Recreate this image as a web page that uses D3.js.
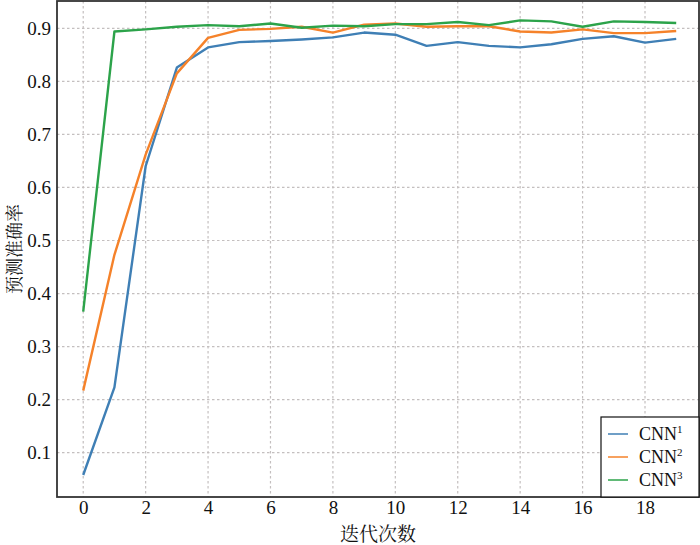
<!DOCTYPE html>
<html>
<head>
<meta charset="utf-8">
<script src="https://d3js.org/d3.v7.min.js"></script>
<style>
  body { margin: 0; background: #fff; }
  svg { display: block; }
</style>
</head>
<body>
<svg id="chart" width="700" height="545"></svg>
<script>
'use strict';

const epochs = d3.range(0, 20);
const cnn1 = [0.058, 0.223, 0.640, 0.826, 0.864, 0.874, 0.876, 0.879, 0.883, 0.892,
    0.888, 0.867, 0.874, 0.867, 0.864, 0.870, 0.880, 0.885, 0.873, 0.880];
const cnn2 = [0.217, 0.473, 0.662, 0.815, 0.882, 0.897, 0.899, 0.903, 0.892, 0.907,
    0.909, 0.903, 0.904, 0.904, 0.894, 0.892, 0.898, 0.891, 0.891, 0.895];
const cnn3 = [0.366, 0.894, 0.898, 0.903, 0.906, 0.904, 0.909, 0.901, 0.905, 0.904,
    0.908, 0.908, 0.912, 0.906, 0.915, 0.913, 0.903, 0.913, 0.912, 0.910];
const seriesNames = ['1', '2', '3'];
const xTicks = d3.range(0, 20, 2);
const yTicks = [0.1, 0.2, 0.3, 0.4, 0.5, 0.6, 0.7, 0.8, 0.9];

const colors = ['#3f7fb5', '#f5822a', '#2ca34a'];
const serif = '"Liberation Serif", "Times New Roman", serif';
const cjk = '"Noto Serif CJK SC", "Noto Sans CJK SC", serif';

const svg = d3.select('#chart');
const plotLeft = 57, plotRight = 699, plotTop = 1, plotBottom = 497;

const x = d3.scaleLinear().domain([-0.84, 19.73]).range([plotLeft, plotRight]);
const y = d3.scaleLinear().domain([0.0165, 0.9515]).range([plotBottom, plotTop]);

// grid
const grid = svg.append('g');
grid.selectAll('.vg').data(xTicks).enter().append('line')
    .attr('x1', d => x(d)).attr('x2', d => x(d))
    .attr('y1', plotTop).attr('y2', plotBottom)
    .attr('stroke', '#c4bfbf').attr('stroke-width', 1.2)
    .attr('stroke-dasharray', '2.5,2.5');
grid.selectAll('.hg').data(yTicks).enter().append('line')
    .attr('x1', plotLeft).attr('x2', plotRight)
    .attr('y1', d => y(d)).attr('y2', d => y(d))
    .attr('stroke', '#c4bfbf').attr('stroke-width', 1.2)
    .attr('stroke-dasharray', '2.5,2.5');

// lines
const line = d3.line()
    .x((d, i) => x(epochs[i]))
    .y(d => y(d));
[cnn1, cnn2, cnn3].forEach(function(s, i) {
    svg.append('path')
        .datum(s)
        .attr('fill', 'none')
        .attr('stroke', colors[i])
        .attr('stroke-width', 2.4)
        .attr('stroke-linejoin', 'round')
        .attr('d', line);
});

// frame
svg.append('rect')
    .attr('x', plotLeft).attr('y', plotTop)
    .attr('width', plotRight - plotLeft).attr('height', plotBottom - plotTop)
    .attr('fill', 'none').attr('stroke', '#333').attr('stroke-width', 1.8);

// axes (ticks hidden, labels only)
const xAxis = svg.append('g')
    .attr('transform', 'translate(0,' + plotBottom + ')')
    .call(d3.axisBottom(x).tickValues(xTicks).tickSize(0).tickPadding(4));
const yAxis = svg.append('g')
    .attr('transform', 'translate(' + plotLeft + ',0)')
    .call(d3.axisLeft(y).tickValues(yTicks).tickSize(0).tickPadding(6)
        .tickFormat(d3.format('.1f')));
[xAxis, yAxis].forEach(function(a) {
    a.select('.domain').remove();
    a.selectAll('text')
        .attr('fill', '#111')
        .style('font-family', serif)
        .style('font-size', '19px');
});

// axis titles
svg.append('text')
    .attr('x', (plotLeft + plotRight) / 2).attr('y', 541)
    .attr('text-anchor', 'middle')
    .style('font-family', cjk).style('font-size', '19px').attr('fill', '#111')
    .text('迭代次数');
svg.append('text')
    .attr('transform', 'translate(21,249) rotate(-90)')
    .attr('text-anchor', 'middle')
    .style('font-family', cjk).style('font-size', '18px').attr('fill', '#111')
    .text('预测准确率');

// legend
const lg = svg.append('g');
lg.append('rect')
    .attr('x', 601).attr('y', 417)
    .attr('width', 98).attr('height', 80)
    .attr('fill', '#fff').attr('stroke', '#111').attr('stroke-width', 1.2);
seriesNames.forEach(function(n, i) {
    const ly = 434 + i * 23;
    lg.append('line')
        .attr('x1', 608).attr('x2', 628)
        .attr('y1', ly).attr('y2', ly)
        .attr('stroke', colors[i]).attr('stroke-width', 1.5);
    const t = lg.append('text')
        .attr('x', 639).attr('y', ly + 6)
        .style('font-family', serif).style('font-size', '18px').attr('fill', '#111');
    t.append('tspan').text('CNN');
    t.append('tspan').attr('dy', -7).style('font-size', '11px').text(n);
});
</script>
</body>
</html>
